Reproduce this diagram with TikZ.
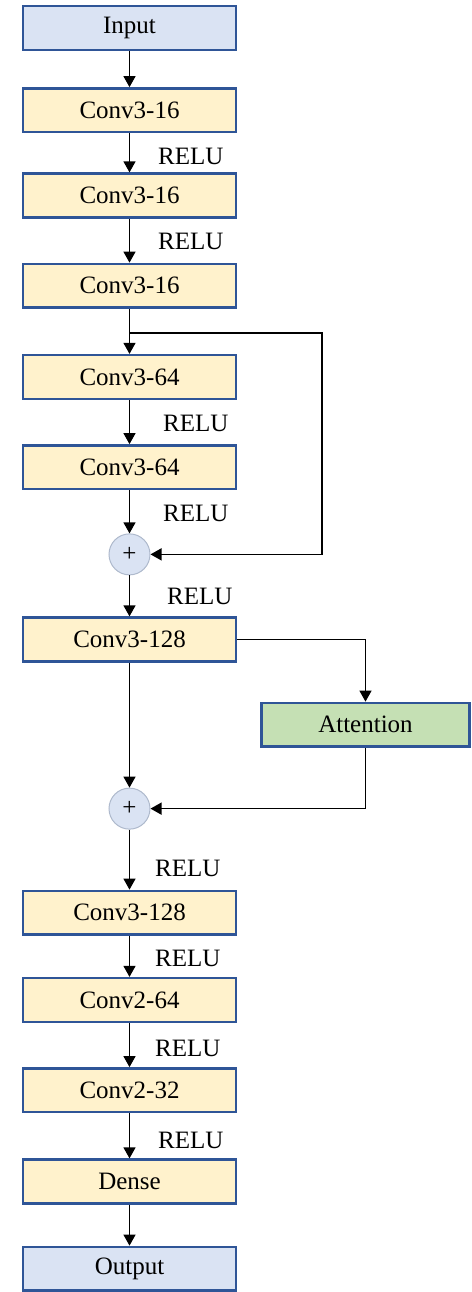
\documentclass[tikz,border=0pt]{standalone}
\usepackage{fontspec}
\setmainfont{Liberation Serif}
\usetikzlibrary{positioning,arrows.meta}

\definecolor{ioblue}{HTML}{DAE3F3}
\definecolor{convyellow}{HTML}{FFF2CC}
\definecolor{attgreen}{HTML}{C5E0B4}
\definecolor{boxedge}{HTML}{2F5597}
\definecolor{addedge}{HTML}{AEB9CC}

\tikzset{
  layer/.style={draw=boxedge, line width=2.5pt, minimum width=213pt,
    minimum height=43.75pt, inner sep=0pt, font=\fontsize{25}{30}\selectfont},
  io/.style={layer, fill=ioblue},
  conv/.style={layer, fill=convyellow},
  attn/.style={layer, fill=attgreen, minimum width=208pt},
  adder/.style={circle, draw=addedge, fill=ioblue, line width=1pt,
    minimum size=41pt, inner sep=0pt, font=\fontsize{25}{30}\selectfont},
  relu/.style={anchor=west, inner sep=0pt, font=\fontsize{25}{30}\selectfont},
  arr/.style={-{Triangle[width=12pt,length=11pt]}, line width=1.3pt},
}

\begin{document}
\begin{tikzpicture}
  \useasboundingbox (0,0) rectangle (471pt,-1292pt);

  % Input and first conv block
  \node[io] (input) at (129.5pt,-28pt) {Input};
  \node[conv, below=36pt of input] (c1) {Conv3-16};
  \node[conv, below=39pt of c1] (c2) {Conv3-16};
  \node[conv, below=44pt of c2] (c3) {Conv3-16};

  % Residual block
  \coordinate[below=24pt of c3] (split1);
  \coordinate[right=192.5pt of split1] (skip1);
  \node[conv, below=45pt of c3] (c4) {Conv3-64};
  \node[conv, below=44pt of c4] (c5) {Conv3-64};
  \node[adder, below=43pt of c5] (add1) {+};
  \node[conv, below=41pt of add1] (c6) {Conv3-128};

  % Attention branch
  \node[attn, below right=39pt and 23pt of c6] (att) {Attention};
  \node[adder, below=125pt of c6] (add2) {+};

  % Tail
  \node[conv, below=60pt of add2] (c7) {Conv3-128};
  \node[conv, below=41pt of c7] (c8) {Conv2-64};
  \node[conv, below=44pt of c8] (c9) {Conv2-32};
  \node[conv, below=45pt of c9] (dense) {Dense};
  \node[io, below=41pt of dense] (output) {Output};

  % Main path
  \draw[arr] (input) -- (c1);
  \draw[arr] (c1) -- node[relu, xshift=28pt, yshift=-4pt] {RELU} (c2);
  \draw[arr] (c2) -- node[relu, xshift=28pt, yshift=-1pt] {RELU} (c3);
  \draw[arr] (c3) -- (c4);
  \draw[arr] (c4) -- node[relu, xshift=33pt, yshift=-1pt] {RELU} (c5);
  \draw[arr] (c5) -- node[relu, xshift=33pt, yshift=-2pt] {RELU} (add1);
  \draw[arr] (add1) -- node[relu, xshift=37pt, yshift=-1pt] {RELU} (c6);
  \draw[arr] (c6) -- (add2);
  \draw[arr] (add2) -- node[relu, xshift=25pt, yshift=-9pt] {RELU} (c7);
  \draw[arr] (c7) -- node[relu, xshift=25pt, yshift=-2pt] {RELU} (c8);
  \draw[arr] (c8) -- node[relu, xshift=25pt, yshift=-3pt] {RELU} (c9);
  \draw[arr] (c9) -- node[relu, xshift=28pt, yshift=-5pt] {RELU} (dense);
  \draw[arr] (dense) -- (output);

  % Skip and attention connections
  \draw[arr] (split1) -- (skip1) |- (add1);
  \draw[arr] (c6) -| (att);
  \draw[arr] (att) |- (add2);
\end{tikzpicture}
\end{document}
